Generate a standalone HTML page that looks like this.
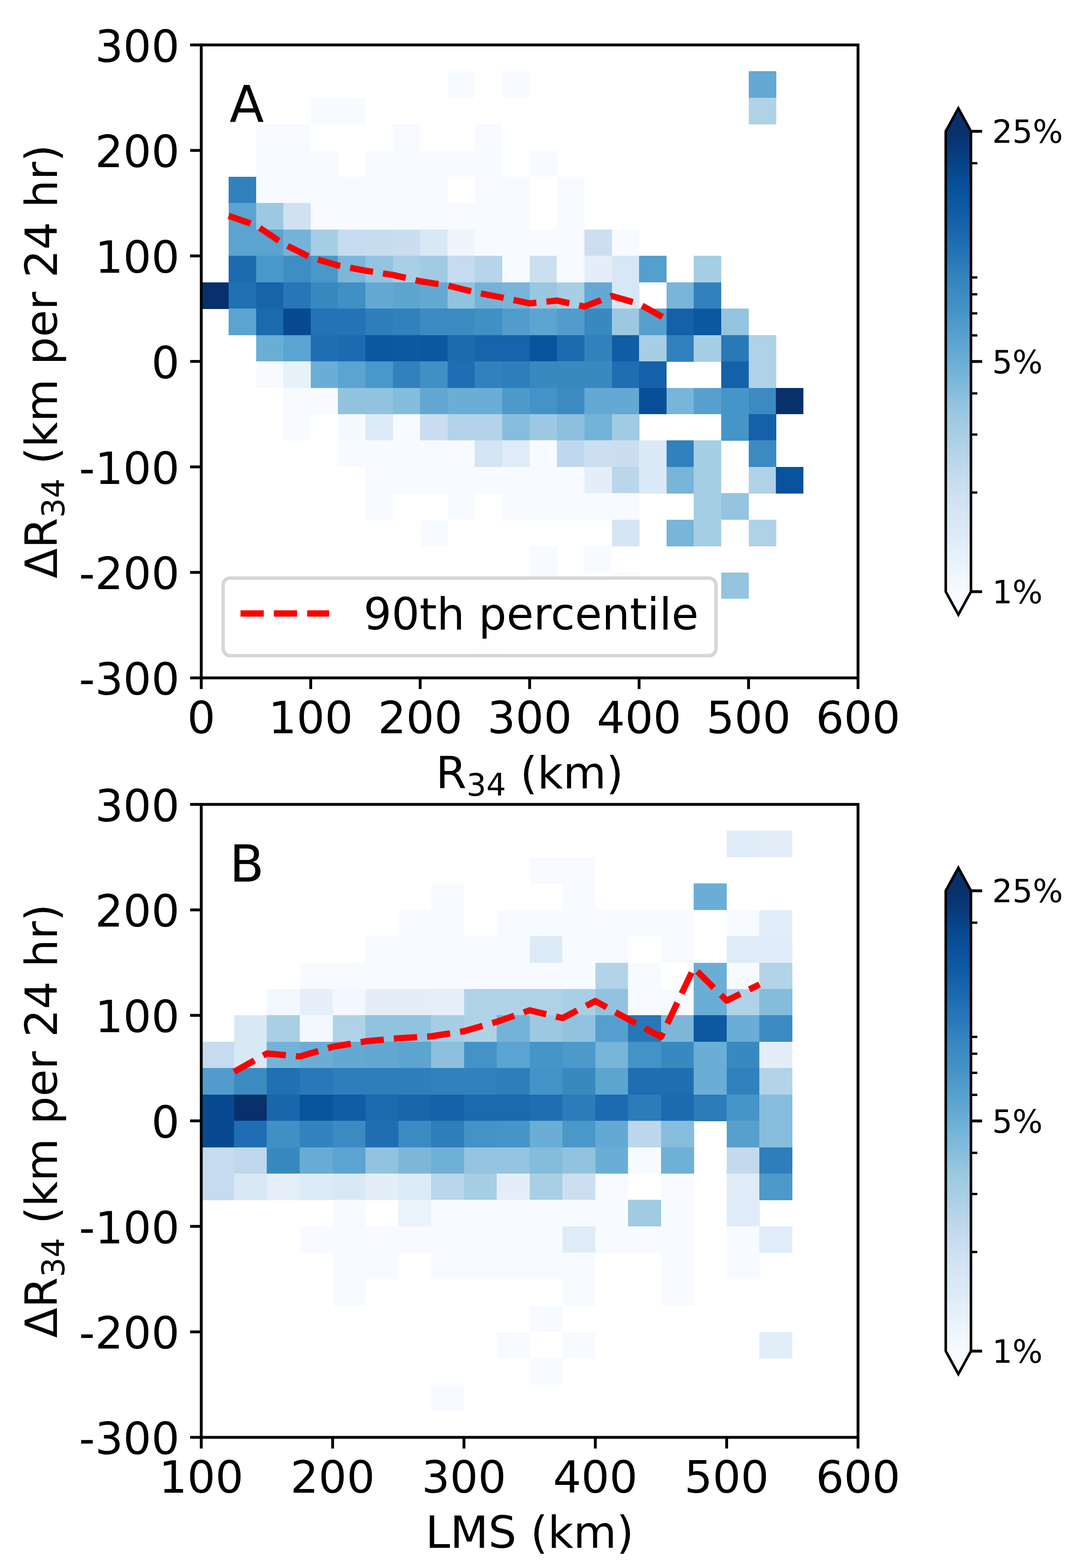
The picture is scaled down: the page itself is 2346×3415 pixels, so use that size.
<!DOCTYPE html><html><head><meta charset="utf-8"><title>Figure</title><style>html,body{margin:0;padding:0;background:#fff;}svg{display:block;}text{font-family:'DejaVu Sans', 'Liberation Sans', sans-serif;fill:#000;}</style></head><body>
<svg width="2346" height="3415" viewBox="0 0 2346 3415">
<rect width="2346" height="3415" fill="#fff"/>
<g shape-rendering="crispEdges">
<rect x="974.87" y="155.29" width="60.01" height="57.84" fill="#f7fbff"/>
<rect x="1094.09" y="155.29" width="60.01" height="57.84" fill="#f7fbff"/>
<rect x="1630.57" y="155.29" width="60.01" height="57.84" fill="#64a9d3"/>
<rect x="676.83" y="212.73" width="60.01" height="57.84" fill="#f7fbff"/>
<rect x="736.44" y="212.73" width="60.01" height="57.84" fill="#f7fbff"/>
<rect x="1630.57" y="212.73" width="60.01" height="57.84" fill="#b0d2e7"/>
<rect x="557.62" y="270.17" width="60.01" height="57.84" fill="#f7fbff"/>
<rect x="617.22" y="270.17" width="60.01" height="57.84" fill="#f7fbff"/>
<rect x="855.66" y="270.17" width="60.01" height="57.84" fill="#f7fbff"/>
<rect x="1034.48" y="270.17" width="60.01" height="57.84" fill="#f7fbff"/>
<rect x="557.62" y="327.61" width="60.01" height="57.84" fill="#f7fbff"/>
<rect x="617.22" y="327.61" width="60.01" height="57.84" fill="#f7fbff"/>
<rect x="676.83" y="327.61" width="60.01" height="57.84" fill="#f7fbff"/>
<rect x="796.05" y="327.61" width="60.01" height="57.84" fill="#f7fbff"/>
<rect x="855.66" y="327.61" width="60.01" height="57.84" fill="#f7fbff"/>
<rect x="915.27" y="327.61" width="60.01" height="57.84" fill="#f7fbff"/>
<rect x="974.87" y="327.61" width="60.01" height="57.84" fill="#f7fbff"/>
<rect x="1034.48" y="327.61" width="60.01" height="57.84" fill="#f7fbff"/>
<rect x="1153.7" y="327.61" width="60.01" height="57.84" fill="#f7fbff"/>
<rect x="498.01" y="385.05" width="60.01" height="57.84" fill="#3181bd"/>
<rect x="557.62" y="385.05" width="60.01" height="57.84" fill="#f7fbff"/>
<rect x="617.22" y="385.05" width="60.01" height="57.84" fill="#f7fbff"/>
<rect x="676.83" y="385.05" width="60.01" height="57.84" fill="#f7fbff"/>
<rect x="736.44" y="385.05" width="60.01" height="57.84" fill="#f7fbff"/>
<rect x="796.05" y="385.05" width="60.01" height="57.84" fill="#f7fbff"/>
<rect x="855.66" y="385.05" width="60.01" height="57.84" fill="#f7fbff"/>
<rect x="915.27" y="385.05" width="60.01" height="57.84" fill="#f7fbff"/>
<rect x="1034.48" y="385.05" width="60.01" height="57.84" fill="#f7fbff"/>
<rect x="1094.09" y="385.05" width="60.01" height="57.84" fill="#f7fbff"/>
<rect x="1213.31" y="385.05" width="60.01" height="57.84" fill="#f7fbff"/>
<rect x="498.01" y="442.49" width="60.01" height="57.84" fill="#5ba3d0"/>
<rect x="557.62" y="442.49" width="60.01" height="57.84" fill="#9cc9e1"/>
<rect x="617.22" y="442.49" width="60.01" height="57.84" fill="#d0e1f2"/>
<rect x="676.83" y="442.49" width="60.01" height="57.84" fill="#f7fbff"/>
<rect x="736.44" y="442.49" width="60.01" height="57.84" fill="#f7fbff"/>
<rect x="796.05" y="442.49" width="60.01" height="57.84" fill="#f7fbff"/>
<rect x="855.66" y="442.49" width="60.01" height="57.84" fill="#f7fbff"/>
<rect x="915.27" y="442.49" width="60.01" height="57.84" fill="#f7fbff"/>
<rect x="974.87" y="442.49" width="60.01" height="57.84" fill="#f7fbff"/>
<rect x="1034.48" y="442.49" width="60.01" height="57.84" fill="#f7fbff"/>
<rect x="1094.09" y="442.49" width="60.01" height="57.84" fill="#f7fbff"/>
<rect x="1213.31" y="442.49" width="60.01" height="57.84" fill="#f7fbff"/>
<rect x="498.01" y="499.93" width="60.01" height="57.84" fill="#5ba3d0"/>
<rect x="557.62" y="499.93" width="60.01" height="57.84" fill="#5ba3d0"/>
<rect x="617.22" y="499.93" width="60.01" height="57.84" fill="#74b3d8"/>
<rect x="676.83" y="499.93" width="60.01" height="57.84" fill="#a6cee4"/>
<rect x="736.44" y="499.93" width="60.01" height="57.84" fill="#c6dbef"/>
<rect x="796.05" y="499.93" width="60.01" height="57.84" fill="#c8dcf0"/>
<rect x="855.66" y="499.93" width="60.01" height="57.84" fill="#cadef0"/>
<rect x="915.27" y="499.93" width="60.01" height="57.84" fill="#d9e8f5"/>
<rect x="974.87" y="499.93" width="60.01" height="57.84" fill="#eef5fc"/>
<rect x="1034.48" y="499.93" width="60.01" height="57.84" fill="#f7fbff"/>
<rect x="1094.09" y="499.93" width="60.01" height="57.84" fill="#f7fbff"/>
<rect x="1153.7" y="499.93" width="60.01" height="57.84" fill="#f7fbff"/>
<rect x="1213.31" y="499.93" width="60.01" height="57.84" fill="#f7fbff"/>
<rect x="1272.92" y="499.93" width="60.01" height="57.84" fill="#ccdff1"/>
<rect x="1332.52" y="499.93" width="60.01" height="57.84" fill="#f7fbff"/>
<rect x="498.01" y="557.37" width="60.01" height="57.84" fill="#1c6bb0"/>
<rect x="557.62" y="557.37" width="60.01" height="57.84" fill="#4a98c9"/>
<rect x="617.22" y="557.37" width="60.01" height="57.84" fill="#3e8ec4"/>
<rect x="676.83" y="557.37" width="60.01" height="57.84" fill="#4a98c9"/>
<rect x="736.44" y="557.37" width="60.01" height="57.84" fill="#7cb7da"/>
<rect x="796.05" y="557.37" width="60.01" height="57.84" fill="#94c4df"/>
<rect x="855.66" y="557.37" width="60.01" height="57.84" fill="#a9cfe5"/>
<rect x="915.27" y="557.37" width="60.01" height="57.84" fill="#a0cbe2"/>
<rect x="974.87" y="557.37" width="60.01" height="57.84" fill="#c6dbef"/>
<rect x="1034.48" y="557.37" width="60.01" height="57.84" fill="#b7d4ea"/>
<rect x="1094.09" y="557.37" width="60.01" height="57.84" fill="#f7fbff"/>
<rect x="1153.7" y="557.37" width="60.01" height="57.84" fill="#ccdff1"/>
<rect x="1213.31" y="557.37" width="60.01" height="57.84" fill="#f7fbff"/>
<rect x="1272.92" y="557.37" width="60.01" height="57.84" fill="#e3eef9"/>
<rect x="1332.52" y="557.37" width="60.01" height="57.84" fill="#d8e7f5"/>
<rect x="1392.13" y="557.37" width="60.01" height="57.84" fill="#549fcd"/>
<rect x="1511.35" y="557.37" width="60.01" height="57.84" fill="#a6cee4"/>
<rect x="438.4" y="614.81" width="60.01" height="57.84" fill="#08306b"/>
<rect x="498.01" y="614.81" width="60.01" height="57.84" fill="#2070b4"/>
<rect x="557.62" y="614.81" width="60.01" height="57.84" fill="#1764ab"/>
<rect x="617.22" y="614.81" width="60.01" height="57.84" fill="#2676b8"/>
<rect x="676.83" y="614.81" width="60.01" height="57.84" fill="#3989c1"/>
<rect x="736.44" y="614.81" width="60.01" height="57.84" fill="#4090c5"/>
<rect x="796.05" y="614.81" width="60.01" height="57.84" fill="#64a9d3"/>
<rect x="855.66" y="614.81" width="60.01" height="57.84" fill="#5da5d1"/>
<rect x="915.27" y="614.81" width="60.01" height="57.84" fill="#64a9d3"/>
<rect x="974.87" y="614.81" width="60.01" height="57.84" fill="#91c3de"/>
<rect x="1034.48" y="614.81" width="60.01" height="57.84" fill="#74b3d8"/>
<rect x="1094.09" y="614.81" width="60.01" height="57.84" fill="#77b5d9"/>
<rect x="1153.7" y="614.81" width="60.01" height="57.84" fill="#99c7e0"/>
<rect x="1213.31" y="614.81" width="60.01" height="57.84" fill="#a6cee4"/>
<rect x="1272.92" y="614.81" width="60.01" height="57.84" fill="#64a9d3"/>
<rect x="1332.52" y="614.81" width="60.01" height="57.84" fill="#d8e7f5"/>
<rect x="1451.74" y="614.81" width="60.01" height="57.84" fill="#77b5d9"/>
<rect x="1511.35" y="614.81" width="60.01" height="57.84" fill="#3181bd"/>
<rect x="498.01" y="672.25" width="60.01" height="57.84" fill="#5ba3d0"/>
<rect x="557.62" y="672.25" width="60.01" height="57.84" fill="#1b69af"/>
<rect x="617.22" y="672.25" width="60.01" height="57.84" fill="#084a91"/>
<rect x="676.83" y="672.25" width="60.01" height="57.84" fill="#2373b6"/>
<rect x="736.44" y="672.25" width="60.01" height="57.84" fill="#2373b6"/>
<rect x="796.05" y="672.25" width="60.01" height="57.84" fill="#2e7ebc"/>
<rect x="855.66" y="672.25" width="60.01" height="57.84" fill="#3181bd"/>
<rect x="915.27" y="672.25" width="60.01" height="57.84" fill="#3b8bc2"/>
<rect x="974.87" y="672.25" width="60.01" height="57.84" fill="#3b8bc2"/>
<rect x="1034.48" y="672.25" width="60.01" height="57.84" fill="#4090c5"/>
<rect x="1094.09" y="672.25" width="60.01" height="57.84" fill="#519ccc"/>
<rect x="1153.7" y="672.25" width="60.01" height="57.84" fill="#5da5d1"/>
<rect x="1213.31" y="672.25" width="60.01" height="57.84" fill="#519ccc"/>
<rect x="1272.92" y="672.25" width="60.01" height="57.84" fill="#3989c1"/>
<rect x="1332.52" y="672.25" width="60.01" height="57.84" fill="#9cc9e1"/>
<rect x="1392.13" y="672.25" width="60.01" height="57.84" fill="#57a0ce"/>
<rect x="1451.74" y="672.25" width="60.01" height="57.84" fill="#1561a9"/>
<rect x="1511.35" y="672.25" width="60.01" height="57.84" fill="#0d57a1"/>
<rect x="1570.96" y="672.25" width="60.01" height="57.84" fill="#94c4df"/>
<rect x="557.62" y="729.69" width="60.01" height="57.84" fill="#6aaed6"/>
<rect x="617.22" y="729.69" width="60.01" height="57.84" fill="#5ba3d0"/>
<rect x="676.83" y="729.69" width="60.01" height="57.84" fill="#1f6eb3"/>
<rect x="736.44" y="729.69" width="60.01" height="57.84" fill="#1c6bb0"/>
<rect x="796.05" y="729.69" width="60.01" height="57.84" fill="#0d57a1"/>
<rect x="855.66" y="729.69" width="60.01" height="57.84" fill="#0e59a2"/>
<rect x="915.27" y="729.69" width="60.01" height="57.84" fill="#0d57a1"/>
<rect x="974.87" y="729.69" width="60.01" height="57.84" fill="#1c6bb0"/>
<rect x="1034.48" y="729.69" width="60.01" height="57.84" fill="#1764ab"/>
<rect x="1094.09" y="729.69" width="60.01" height="57.84" fill="#1764ab"/>
<rect x="1153.7" y="729.69" width="60.01" height="57.84" fill="#0a549e"/>
<rect x="1213.31" y="729.69" width="60.01" height="57.84" fill="#1c6bb0"/>
<rect x="1272.92" y="729.69" width="60.01" height="57.84" fill="#3181bd"/>
<rect x="1332.52" y="729.69" width="60.01" height="57.84" fill="#115ca5"/>
<rect x="1392.13" y="729.69" width="60.01" height="57.84" fill="#a6cee4"/>
<rect x="1451.74" y="729.69" width="60.01" height="57.84" fill="#3181bd"/>
<rect x="1511.35" y="729.69" width="60.01" height="57.84" fill="#a6cee4"/>
<rect x="1570.96" y="729.69" width="60.01" height="57.84" fill="#2979b9"/>
<rect x="1630.57" y="729.69" width="60.01" height="57.84" fill="#b0d2e7"/>
<rect x="557.62" y="787.13" width="60.01" height="57.84" fill="#f7fbff"/>
<rect x="617.22" y="787.13" width="60.01" height="57.84" fill="#e7f1fa"/>
<rect x="676.83" y="787.13" width="60.01" height="57.84" fill="#6aaed6"/>
<rect x="736.44" y="787.13" width="60.01" height="57.84" fill="#5ba3d0"/>
<rect x="796.05" y="787.13" width="60.01" height="57.84" fill="#4a98c9"/>
<rect x="855.66" y="787.13" width="60.01" height="57.84" fill="#3181bd"/>
<rect x="915.27" y="787.13" width="60.01" height="57.84" fill="#4090c5"/>
<rect x="974.87" y="787.13" width="60.01" height="57.84" fill="#1f6eb3"/>
<rect x="1034.48" y="787.13" width="60.01" height="57.84" fill="#3181bd"/>
<rect x="1094.09" y="787.13" width="60.01" height="57.84" fill="#2e7ebc"/>
<rect x="1153.7" y="787.13" width="60.01" height="57.84" fill="#3989c1"/>
<rect x="1213.31" y="787.13" width="60.01" height="57.84" fill="#3989c1"/>
<rect x="1272.92" y="787.13" width="60.01" height="57.84" fill="#3989c1"/>
<rect x="1332.52" y="787.13" width="60.01" height="57.84" fill="#1f6eb3"/>
<rect x="1392.13" y="787.13" width="60.01" height="57.84" fill="#1561a9"/>
<rect x="1570.96" y="787.13" width="60.01" height="57.84" fill="#1561a9"/>
<rect x="1630.57" y="787.13" width="60.01" height="57.84" fill="#b0d2e7"/>
<rect x="617.22" y="844.56" width="60.01" height="57.84" fill="#f7fbff"/>
<rect x="676.83" y="844.56" width="60.01" height="57.84" fill="#f7fbff"/>
<rect x="736.44" y="844.56" width="60.01" height="57.84" fill="#91c3de"/>
<rect x="796.05" y="844.56" width="60.01" height="57.84" fill="#91c3de"/>
<rect x="855.66" y="844.56" width="60.01" height="57.84" fill="#84bcdb"/>
<rect x="915.27" y="844.56" width="60.01" height="57.84" fill="#61a7d2"/>
<rect x="974.87" y="844.56" width="60.01" height="57.84" fill="#6aaed6"/>
<rect x="1034.48" y="844.56" width="60.01" height="57.84" fill="#6aaed6"/>
<rect x="1094.09" y="844.56" width="60.01" height="57.84" fill="#4d99ca"/>
<rect x="1153.7" y="844.56" width="60.01" height="57.84" fill="#4493c7"/>
<rect x="1213.31" y="844.56" width="60.01" height="57.84" fill="#3b8bc2"/>
<rect x="1272.92" y="844.56" width="60.01" height="57.84" fill="#64a9d3"/>
<rect x="1332.52" y="844.56" width="60.01" height="57.84" fill="#64a9d3"/>
<rect x="1392.13" y="844.56" width="60.01" height="57.84" fill="#084f99"/>
<rect x="1451.74" y="844.56" width="60.01" height="57.84" fill="#77b5d9"/>
<rect x="1511.35" y="844.56" width="60.01" height="57.84" fill="#57a0ce"/>
<rect x="1570.96" y="844.56" width="60.01" height="57.84" fill="#4695c8"/>
<rect x="1630.57" y="844.56" width="60.01" height="57.84" fill="#3b8bc2"/>
<rect x="1690.17" y="844.56" width="60.01" height="57.84" fill="#08306b"/>
<rect x="617.22" y="902" width="60.01" height="57.84" fill="#f7fbff"/>
<rect x="736.44" y="902" width="60.01" height="57.84" fill="#f5fafe"/>
<rect x="796.05" y="902" width="60.01" height="57.84" fill="#ddeaf7"/>
<rect x="855.66" y="902" width="60.01" height="57.84" fill="#f7fbff"/>
<rect x="915.27" y="902" width="60.01" height="57.84" fill="#cadef0"/>
<rect x="974.87" y="902" width="60.01" height="57.84" fill="#b3d3e8"/>
<rect x="1034.48" y="902" width="60.01" height="57.84" fill="#b3d3e8"/>
<rect x="1094.09" y="902" width="60.01" height="57.84" fill="#87bddc"/>
<rect x="1153.7" y="902" width="60.01" height="57.84" fill="#9cc9e1"/>
<rect x="1213.31" y="902" width="60.01" height="57.84" fill="#8cc0dd"/>
<rect x="1272.92" y="902" width="60.01" height="57.84" fill="#74b3d8"/>
<rect x="1332.52" y="902" width="60.01" height="57.84" fill="#a0cbe2"/>
<rect x="1570.96" y="902" width="60.01" height="57.84" fill="#4695c8"/>
<rect x="1630.57" y="902" width="60.01" height="57.84" fill="#1561a9"/>
<rect x="736.44" y="959.44" width="60.01" height="57.84" fill="#f7fbff"/>
<rect x="796.05" y="959.44" width="60.01" height="57.84" fill="#f7fbff"/>
<rect x="855.66" y="959.44" width="60.01" height="57.84" fill="#f7fbff"/>
<rect x="915.27" y="959.44" width="60.01" height="57.84" fill="#f7fbff"/>
<rect x="974.87" y="959.44" width="60.01" height="57.84" fill="#f7fbff"/>
<rect x="1034.48" y="959.44" width="60.01" height="57.84" fill="#d3e4f3"/>
<rect x="1094.09" y="959.44" width="60.01" height="57.84" fill="#dfecf7"/>
<rect x="1153.7" y="959.44" width="60.01" height="57.84" fill="#f7fbff"/>
<rect x="1213.31" y="959.44" width="60.01" height="57.84" fill="#bfd8ed"/>
<rect x="1272.92" y="959.44" width="60.01" height="57.84" fill="#ccdff1"/>
<rect x="1332.52" y="959.44" width="60.01" height="57.84" fill="#cadef0"/>
<rect x="1392.13" y="959.44" width="60.01" height="57.84" fill="#dce9f6"/>
<rect x="1451.74" y="959.44" width="60.01" height="57.84" fill="#3181bd"/>
<rect x="1511.35" y="959.44" width="60.01" height="57.84" fill="#a6cee4"/>
<rect x="1630.57" y="959.44" width="60.01" height="57.84" fill="#3b8bc2"/>
<rect x="796.05" y="1016.88" width="60.01" height="57.84" fill="#f7fbff"/>
<rect x="855.66" y="1016.88" width="60.01" height="57.84" fill="#f7fbff"/>
<rect x="915.27" y="1016.88" width="60.01" height="57.84" fill="#f7fbff"/>
<rect x="974.87" y="1016.88" width="60.01" height="57.84" fill="#f7fbff"/>
<rect x="1034.48" y="1016.88" width="60.01" height="57.84" fill="#f7fbff"/>
<rect x="1094.09" y="1016.88" width="60.01" height="57.84" fill="#f7fbff"/>
<rect x="1153.7" y="1016.88" width="60.01" height="57.84" fill="#f7fbff"/>
<rect x="1213.31" y="1016.88" width="60.01" height="57.84" fill="#f7fbff"/>
<rect x="1272.92" y="1016.88" width="60.01" height="57.84" fill="#e3eef9"/>
<rect x="1332.52" y="1016.88" width="60.01" height="57.84" fill="#b9d6ea"/>
<rect x="1392.13" y="1016.88" width="60.01" height="57.84" fill="#dce9f6"/>
<rect x="1451.74" y="1016.88" width="60.01" height="57.84" fill="#77b5d9"/>
<rect x="1511.35" y="1016.88" width="60.01" height="57.84" fill="#a6cee4"/>
<rect x="1630.57" y="1016.88" width="60.01" height="57.84" fill="#b0d2e7"/>
<rect x="1690.17" y="1016.88" width="60.01" height="57.84" fill="#09529d"/>
<rect x="796.05" y="1074.32" width="60.01" height="57.84" fill="#f7fbff"/>
<rect x="974.87" y="1074.32" width="60.01" height="57.84" fill="#f7fbff"/>
<rect x="1094.09" y="1074.32" width="60.01" height="57.84" fill="#f7fbff"/>
<rect x="1153.7" y="1074.32" width="60.01" height="57.84" fill="#f7fbff"/>
<rect x="1213.31" y="1074.32" width="60.01" height="57.84" fill="#f7fbff"/>
<rect x="1272.92" y="1074.32" width="60.01" height="57.84" fill="#f7fbff"/>
<rect x="1332.52" y="1074.32" width="60.01" height="57.84" fill="#f7fbff"/>
<rect x="1511.35" y="1074.32" width="60.01" height="57.84" fill="#a6cee4"/>
<rect x="1570.96" y="1074.32" width="60.01" height="57.84" fill="#94c4df"/>
<rect x="915.27" y="1131.76" width="60.01" height="57.84" fill="#f7fbff"/>
<rect x="1332.52" y="1131.76" width="60.01" height="57.84" fill="#d6e5f4"/>
<rect x="1451.74" y="1131.76" width="60.01" height="57.84" fill="#77b5d9"/>
<rect x="1511.35" y="1131.76" width="60.01" height="57.84" fill="#a6cee4"/>
<rect x="1630.57" y="1131.76" width="60.01" height="57.84" fill="#b0d2e7"/>
<rect x="1153.7" y="1189.2" width="60.01" height="57.84" fill="#f7fbff"/>
<rect x="1272.92" y="1189.2" width="60.01" height="57.84" fill="#f7fbff"/>
<rect x="1153.7" y="1246.64" width="60.01" height="57.84" fill="#f7fbff"/>
<rect x="1332.52" y="1246.64" width="60.01" height="57.84" fill="#f7fbff"/>
<rect x="1570.96" y="1246.64" width="60.01" height="57.84" fill="#94c4df"/>
<rect x="1213.31" y="1304.08" width="60.01" height="57.84" fill="#f7fbff"/>
<rect x="1034.48" y="1361.52" width="60.01" height="57.84" fill="#f7fbff"/>
</g>
<polyline points="498.01,470.06 557.62,490.74 617.22,530.94 676.83,560.81 736.44,578.04 796.05,589.53 855.66,598.72 915.27,612.51 974.88,621.7 1034.48,636.63 1094.09,648.12 1153.7,660.76 1213.31,654.55 1272.92,667.65 1332.53,644.67 1392.13,661.91 1451.74,695.22" fill="none" stroke="#ff0000" stroke-width="13.7" stroke-dasharray="50.7 21.9" stroke-linecap="butt" stroke-linejoin="round"/>
<rect x="486" y="1259" width="1073.6" height="169" rx="15.5" ry="15.5" fill="#ffffff" fill-opacity="0.8" stroke="#cccccc" stroke-opacity="0.8" stroke-width="7.6"/>
<line x1="523.9" y1="1336.2" x2="717.1" y2="1336.2" stroke="#ff0000" stroke-width="13.7" stroke-dasharray="50.7 21.9"/>
<text x="792" y="1370.5" font-size="95.8">90th percentile</text>
<rect x="438.4" y="97.85" width="1430.6" height="1378.55" fill="none" stroke="#000" stroke-width="6.2"/>
<line x1="414.1" y1="97.85" x2="438.4" y2="97.85" stroke="#000" stroke-width="6.2"/>
<text x="391.1" y="134.55" font-size="96.5" text-anchor="end">300</text>
<line x1="414.1" y1="327.61" x2="438.4" y2="327.61" stroke="#000" stroke-width="6.2"/>
<text x="391.1" y="364.31" font-size="96.5" text-anchor="end">200</text>
<line x1="414.1" y1="557.37" x2="438.4" y2="557.37" stroke="#000" stroke-width="6.2"/>
<text x="391.1" y="594.07" font-size="96.5" text-anchor="end">100</text>
<line x1="414.1" y1="787.13" x2="438.4" y2="787.13" stroke="#000" stroke-width="6.2"/>
<text x="391.1" y="823.83" font-size="96.5" text-anchor="end">0</text>
<line x1="414.1" y1="1016.88" x2="438.4" y2="1016.88" stroke="#000" stroke-width="6.2"/>
<text x="391.1" y="1053.58" font-size="96.5" text-anchor="end">-100</text>
<line x1="414.1" y1="1246.64" x2="438.4" y2="1246.64" stroke="#000" stroke-width="6.2"/>
<text x="391.1" y="1283.34" font-size="96.5" text-anchor="end">-200</text>
<line x1="414.1" y1="1476.4" x2="438.4" y2="1476.4" stroke="#000" stroke-width="6.2"/>
<text x="391.1" y="1513.1" font-size="96.5" text-anchor="end">-300</text>
<line x1="438.4" y1="1476.4" x2="438.4" y2="1500.7" stroke="#000" stroke-width="6.2"/>
<text x="438.4" y="1597.3" font-size="96.5" text-anchor="middle">0</text>
<line x1="676.83" y1="1476.4" x2="676.83" y2="1500.7" stroke="#000" stroke-width="6.2"/>
<text x="676.83" y="1597.3" font-size="96.5" text-anchor="middle">100</text>
<line x1="915.27" y1="1476.4" x2="915.27" y2="1500.7" stroke="#000" stroke-width="6.2"/>
<text x="915.27" y="1597.3" font-size="96.5" text-anchor="middle">200</text>
<line x1="1153.7" y1="1476.4" x2="1153.7" y2="1500.7" stroke="#000" stroke-width="6.2"/>
<text x="1153.7" y="1597.3" font-size="96.5" text-anchor="middle">300</text>
<line x1="1392.13" y1="1476.4" x2="1392.13" y2="1500.7" stroke="#000" stroke-width="6.2"/>
<text x="1392.13" y="1597.3" font-size="96.5" text-anchor="middle">400</text>
<line x1="1630.57" y1="1476.4" x2="1630.57" y2="1500.7" stroke="#000" stroke-width="6.2"/>
<text x="1630.57" y="1597.3" font-size="96.5" text-anchor="middle">500</text>
<line x1="1869" y1="1476.4" x2="1869" y2="1500.7" stroke="#000" stroke-width="6.2"/>
<text x="1869" y="1597.3" font-size="96.5" text-anchor="middle">600</text>
<text x="1153.7" y="1716.8" font-size="96.5" text-anchor="middle">R<tspan font-size="67.55" dy="16.4">34</tspan><tspan dy="-16.4"> (km)</tspan></text>
<text transform="translate(123.8,787.33) rotate(-90)" font-size="95.9" text-anchor="middle">&#916;R<tspan font-size="67.13" dy="16.4">34</tspan><tspan dy="-16.4"> (km per 24 hr)</tspan></text>
<text x="500" y="265.85" font-size="109.6">A</text>
<g shape-rendering="crispEdges">
<rect x="1582.88" y="1809.34" width="71.93" height="57.84" fill="#dfecf7"/>
<rect x="1654.41" y="1809.34" width="71.93" height="57.84" fill="#e3eef9"/>
<rect x="1153.7" y="1866.78" width="71.93" height="57.84" fill="#f7fbff"/>
<rect x="1225.23" y="1866.78" width="71.93" height="57.84" fill="#f7fbff"/>
<rect x="939.11" y="1924.22" width="71.93" height="57.84" fill="#f7fbff"/>
<rect x="1225.23" y="1924.22" width="71.93" height="57.84" fill="#f7fbff"/>
<rect x="1511.35" y="1924.22" width="71.93" height="57.84" fill="#6aaed6"/>
<rect x="867.58" y="1981.66" width="71.93" height="57.84" fill="#f7fbff"/>
<rect x="939.11" y="1981.66" width="71.93" height="57.84" fill="#f7fbff"/>
<rect x="1082.17" y="1981.66" width="71.93" height="57.84" fill="#f7fbff"/>
<rect x="1153.7" y="1981.66" width="71.93" height="57.84" fill="#f7fbff"/>
<rect x="1225.23" y="1981.66" width="71.93" height="57.84" fill="#f7fbff"/>
<rect x="1296.76" y="1981.66" width="71.93" height="57.84" fill="#f7fbff"/>
<rect x="1368.29" y="1981.66" width="71.93" height="57.84" fill="#f7fbff"/>
<rect x="1439.82" y="1981.66" width="71.93" height="57.84" fill="#f7fbff"/>
<rect x="1582.88" y="1981.66" width="71.93" height="57.84" fill="#f7fbff"/>
<rect x="1654.41" y="1981.66" width="71.93" height="57.84" fill="#e1edf8"/>
<rect x="796.05" y="2039.1" width="71.93" height="57.84" fill="#f7fbff"/>
<rect x="867.58" y="2039.1" width="71.93" height="57.84" fill="#f7fbff"/>
<rect x="939.11" y="2039.1" width="71.93" height="57.84" fill="#f7fbff"/>
<rect x="1010.64" y="2039.1" width="71.93" height="57.84" fill="#f7fbff"/>
<rect x="1082.17" y="2039.1" width="71.93" height="57.84" fill="#f7fbff"/>
<rect x="1153.7" y="2039.1" width="71.93" height="57.84" fill="#ddeaf7"/>
<rect x="1225.23" y="2039.1" width="71.93" height="57.84" fill="#f7fbff"/>
<rect x="1296.76" y="2039.1" width="71.93" height="57.84" fill="#f7fbff"/>
<rect x="1439.82" y="2039.1" width="71.93" height="57.84" fill="#f7fbff"/>
<rect x="1582.88" y="2039.1" width="71.93" height="57.84" fill="#dfecf7"/>
<rect x="1654.41" y="2039.1" width="71.93" height="57.84" fill="#dfecf7"/>
<rect x="652.99" y="2096.54" width="71.93" height="57.84" fill="#f7fbff"/>
<rect x="724.52" y="2096.54" width="71.93" height="57.84" fill="#f7fbff"/>
<rect x="796.05" y="2096.54" width="71.93" height="57.84" fill="#f7fbff"/>
<rect x="867.58" y="2096.54" width="71.93" height="57.84" fill="#f7fbff"/>
<rect x="939.11" y="2096.54" width="71.93" height="57.84" fill="#f7fbff"/>
<rect x="1010.64" y="2096.54" width="71.93" height="57.84" fill="#f7fbff"/>
<rect x="1082.17" y="2096.54" width="71.93" height="57.84" fill="#f7fbff"/>
<rect x="1153.7" y="2096.54" width="71.93" height="57.84" fill="#f7fbff"/>
<rect x="1225.23" y="2096.54" width="71.93" height="57.84" fill="#f7fbff"/>
<rect x="1296.76" y="2096.54" width="71.93" height="57.84" fill="#b3d3e8"/>
<rect x="1368.29" y="2096.54" width="71.93" height="57.84" fill="#f7fbff"/>
<rect x="1511.35" y="2096.54" width="71.93" height="57.84" fill="#6aaed6"/>
<rect x="1582.88" y="2096.54" width="71.93" height="57.84" fill="#f7fbff"/>
<rect x="1654.41" y="2096.54" width="71.93" height="57.84" fill="#b3d3e8"/>
<rect x="581.46" y="2153.98" width="71.93" height="57.84" fill="#f3f8fe"/>
<rect x="652.99" y="2153.98" width="71.93" height="57.84" fill="#e5eff9"/>
<rect x="724.52" y="2153.98" width="71.93" height="57.84" fill="#f3f8fe"/>
<rect x="796.05" y="2153.98" width="71.93" height="57.84" fill="#e3eef9"/>
<rect x="867.58" y="2153.98" width="71.93" height="57.84" fill="#e3eef9"/>
<rect x="939.11" y="2153.98" width="71.93" height="57.84" fill="#e5eff9"/>
<rect x="1010.64" y="2153.98" width="71.93" height="57.84" fill="#b0d2e7"/>
<rect x="1082.17" y="2153.98" width="71.93" height="57.84" fill="#b0d2e7"/>
<rect x="1153.7" y="2153.98" width="71.93" height="57.84" fill="#b0d2e7"/>
<rect x="1225.23" y="2153.98" width="71.93" height="57.84" fill="#a9cfe5"/>
<rect x="1296.76" y="2153.98" width="71.93" height="57.84" fill="#91c3de"/>
<rect x="1368.29" y="2153.98" width="71.93" height="57.84" fill="#f7fbff"/>
<rect x="1439.82" y="2153.98" width="71.93" height="57.84" fill="#f7fbff"/>
<rect x="1511.35" y="2153.98" width="71.93" height="57.84" fill="#6aaed6"/>
<rect x="1582.88" y="2153.98" width="71.93" height="57.84" fill="#b0d2e7"/>
<rect x="1654.41" y="2153.98" width="71.93" height="57.84" fill="#84bcdb"/>
<rect x="509.93" y="2211.42" width="71.93" height="57.84" fill="#d9e8f5"/>
<rect x="581.46" y="2211.42" width="71.93" height="57.84" fill="#a9cfe5"/>
<rect x="652.99" y="2211.42" width="71.93" height="57.84" fill="#f3f8fe"/>
<rect x="724.52" y="2211.42" width="71.93" height="57.84" fill="#b0d2e7"/>
<rect x="796.05" y="2211.42" width="71.93" height="57.84" fill="#91c3de"/>
<rect x="867.58" y="2211.42" width="71.93" height="57.84" fill="#91c3de"/>
<rect x="939.11" y="2211.42" width="71.93" height="57.84" fill="#a6cee4"/>
<rect x="1010.64" y="2211.42" width="71.93" height="57.84" fill="#b0d2e7"/>
<rect x="1082.17" y="2211.42" width="71.93" height="57.84" fill="#74b3d8"/>
<rect x="1153.7" y="2211.42" width="71.93" height="57.84" fill="#9cc9e1"/>
<rect x="1225.23" y="2211.42" width="71.93" height="57.84" fill="#91c3de"/>
<rect x="1296.76" y="2211.42" width="71.93" height="57.84" fill="#549fcd"/>
<rect x="1368.29" y="2211.42" width="71.93" height="57.84" fill="#2676b8"/>
<rect x="1439.82" y="2211.42" width="71.93" height="57.84" fill="#7cb7da"/>
<rect x="1511.35" y="2211.42" width="71.93" height="57.84" fill="#0e59a2"/>
<rect x="1582.88" y="2211.42" width="71.93" height="57.84" fill="#6aaed6"/>
<rect x="1654.41" y="2211.42" width="71.93" height="57.84" fill="#3b8bc2"/>
<rect x="438.4" y="2268.86" width="71.93" height="57.84" fill="#c6dbef"/>
<rect x="509.93" y="2268.86" width="71.93" height="57.84" fill="#d9e8f5"/>
<rect x="581.46" y="2268.86" width="71.93" height="57.84" fill="#74b3d8"/>
<rect x="652.99" y="2268.86" width="71.93" height="57.84" fill="#6aaed6"/>
<rect x="724.52" y="2268.86" width="71.93" height="57.84" fill="#64a9d3"/>
<rect x="796.05" y="2268.86" width="71.93" height="57.84" fill="#61a7d2"/>
<rect x="867.58" y="2268.86" width="71.93" height="57.84" fill="#5da5d1"/>
<rect x="939.11" y="2268.86" width="71.93" height="57.84" fill="#8cc0dd"/>
<rect x="1010.64" y="2268.86" width="71.93" height="57.84" fill="#4493c7"/>
<rect x="1082.17" y="2268.86" width="71.93" height="57.84" fill="#5ba3d0"/>
<rect x="1153.7" y="2268.86" width="71.93" height="57.84" fill="#4695c8"/>
<rect x="1225.23" y="2268.86" width="71.93" height="57.84" fill="#4d99ca"/>
<rect x="1296.76" y="2268.86" width="71.93" height="57.84" fill="#77b5d9"/>
<rect x="1368.29" y="2268.86" width="71.93" height="57.84" fill="#4493c7"/>
<rect x="1439.82" y="2268.86" width="71.93" height="57.84" fill="#3989c1"/>
<rect x="1511.35" y="2268.86" width="71.93" height="57.84" fill="#6aaed6"/>
<rect x="1582.88" y="2268.86" width="71.93" height="57.84" fill="#3989c1"/>
<rect x="1654.41" y="2268.86" width="71.93" height="57.84" fill="#e3eef9"/>
<rect x="438.4" y="2326.3" width="71.93" height="57.84" fill="#519ccc"/>
<rect x="509.93" y="2326.3" width="71.93" height="57.84" fill="#3b8bc2"/>
<rect x="581.46" y="2326.3" width="71.93" height="57.84" fill="#2070b4"/>
<rect x="652.99" y="2326.3" width="71.93" height="57.84" fill="#2979b9"/>
<rect x="724.52" y="2326.3" width="71.93" height="57.84" fill="#2e7ebc"/>
<rect x="796.05" y="2326.3" width="71.93" height="57.84" fill="#2e7ebc"/>
<rect x="867.58" y="2326.3" width="71.93" height="57.84" fill="#2e7ebc"/>
<rect x="939.11" y="2326.3" width="71.93" height="57.84" fill="#3181bd"/>
<rect x="1010.64" y="2326.3" width="71.93" height="57.84" fill="#3181bd"/>
<rect x="1082.17" y="2326.3" width="71.93" height="57.84" fill="#2e7ebc"/>
<rect x="1153.7" y="2326.3" width="71.93" height="57.84" fill="#4493c7"/>
<rect x="1225.23" y="2326.3" width="71.93" height="57.84" fill="#3989c1"/>
<rect x="1296.76" y="2326.3" width="71.93" height="57.84" fill="#5da5d1"/>
<rect x="1368.29" y="2326.3" width="71.93" height="57.84" fill="#1f6eb3"/>
<rect x="1439.82" y="2326.3" width="71.93" height="57.84" fill="#1f6eb3"/>
<rect x="1511.35" y="2326.3" width="71.93" height="57.84" fill="#6aaed6"/>
<rect x="1582.88" y="2326.3" width="71.93" height="57.84" fill="#3181bd"/>
<rect x="1654.41" y="2326.3" width="71.93" height="57.84" fill="#b3d3e8"/>
<rect x="438.4" y="2383.74" width="71.93" height="57.84" fill="#084a91"/>
<rect x="509.93" y="2383.74" width="71.93" height="57.84" fill="#08306b"/>
<rect x="581.46" y="2383.74" width="71.93" height="57.84" fill="#1966ad"/>
<rect x="652.99" y="2383.74" width="71.93" height="57.84" fill="#0a549e"/>
<rect x="724.52" y="2383.74" width="71.93" height="57.84" fill="#115ca5"/>
<rect x="796.05" y="2383.74" width="71.93" height="57.84" fill="#1b69af"/>
<rect x="867.58" y="2383.74" width="71.93" height="57.84" fill="#1966ad"/>
<rect x="939.11" y="2383.74" width="71.93" height="57.84" fill="#1561a9"/>
<rect x="1010.64" y="2383.74" width="71.93" height="57.84" fill="#1b69af"/>
<rect x="1082.17" y="2383.74" width="71.93" height="57.84" fill="#1b69af"/>
<rect x="1153.7" y="2383.74" width="71.93" height="57.84" fill="#1f6eb3"/>
<rect x="1225.23" y="2383.74" width="71.93" height="57.84" fill="#2c7cba"/>
<rect x="1296.76" y="2383.74" width="71.93" height="57.84" fill="#1c6bb0"/>
<rect x="1368.29" y="2383.74" width="71.93" height="57.84" fill="#2c7cba"/>
<rect x="1439.82" y="2383.74" width="71.93" height="57.84" fill="#1c6bb0"/>
<rect x="1511.35" y="2383.74" width="71.93" height="57.84" fill="#2c7cba"/>
<rect x="1582.88" y="2383.74" width="71.93" height="57.84" fill="#4695c8"/>
<rect x="1654.41" y="2383.74" width="71.93" height="57.84" fill="#87bddc"/>
<rect x="438.4" y="2441.17" width="71.93" height="57.84" fill="#084a91"/>
<rect x="509.93" y="2441.17" width="71.93" height="57.84" fill="#1f6eb3"/>
<rect x="581.46" y="2441.17" width="71.93" height="57.84" fill="#4090c5"/>
<rect x="652.99" y="2441.17" width="71.93" height="57.84" fill="#3383be"/>
<rect x="724.52" y="2441.17" width="71.93" height="57.84" fill="#3b8bc2"/>
<rect x="796.05" y="2441.17" width="71.93" height="57.84" fill="#1f6eb3"/>
<rect x="867.58" y="2441.17" width="71.93" height="57.84" fill="#3b8bc2"/>
<rect x="939.11" y="2441.17" width="71.93" height="57.84" fill="#2e7ebc"/>
<rect x="1010.64" y="2441.17" width="71.93" height="57.84" fill="#4493c7"/>
<rect x="1082.17" y="2441.17" width="71.93" height="57.84" fill="#4695c8"/>
<rect x="1153.7" y="2441.17" width="71.93" height="57.84" fill="#6aaed6"/>
<rect x="1225.23" y="2441.17" width="71.93" height="57.84" fill="#4a98c9"/>
<rect x="1296.76" y="2441.17" width="71.93" height="57.84" fill="#64a9d3"/>
<rect x="1368.29" y="2441.17" width="71.93" height="57.84" fill="#bdd7ec"/>
<rect x="1439.82" y="2441.17" width="71.93" height="57.84" fill="#87bddc"/>
<rect x="1582.88" y="2441.17" width="71.93" height="57.84" fill="#57a0ce"/>
<rect x="1654.41" y="2441.17" width="71.93" height="57.84" fill="#87bddc"/>
<rect x="438.4" y="2498.61" width="71.93" height="57.84" fill="#c6dbef"/>
<rect x="509.93" y="2498.61" width="71.93" height="57.84" fill="#bfd8ed"/>
<rect x="581.46" y="2498.61" width="71.93" height="57.84" fill="#3989c1"/>
<rect x="652.99" y="2498.61" width="71.93" height="57.84" fill="#68acd5"/>
<rect x="724.52" y="2498.61" width="71.93" height="57.84" fill="#5ba3d0"/>
<rect x="796.05" y="2498.61" width="71.93" height="57.84" fill="#91c3de"/>
<rect x="867.58" y="2498.61" width="71.93" height="57.84" fill="#7cb7da"/>
<rect x="939.11" y="2498.61" width="71.93" height="57.84" fill="#6fb0d7"/>
<rect x="1010.64" y="2498.61" width="71.93" height="57.84" fill="#94c4df"/>
<rect x="1082.17" y="2498.61" width="71.93" height="57.84" fill="#94c4df"/>
<rect x="1153.7" y="2498.61" width="71.93" height="57.84" fill="#84bcdb"/>
<rect x="1225.23" y="2498.61" width="71.93" height="57.84" fill="#91c3de"/>
<rect x="1296.76" y="2498.61" width="71.93" height="57.84" fill="#6aaed6"/>
<rect x="1368.29" y="2498.61" width="71.93" height="57.84" fill="#f7fbff"/>
<rect x="1439.82" y="2498.61" width="71.93" height="57.84" fill="#6fb0d7"/>
<rect x="1582.88" y="2498.61" width="71.93" height="57.84" fill="#c3daee"/>
<rect x="1654.41" y="2498.61" width="71.93" height="57.84" fill="#2e7ebc"/>
<rect x="438.4" y="2556.05" width="71.93" height="57.84" fill="#c6dbef"/>
<rect x="509.93" y="2556.05" width="71.93" height="57.84" fill="#d9e8f5"/>
<rect x="581.46" y="2556.05" width="71.93" height="57.84" fill="#e5eff9"/>
<rect x="652.99" y="2556.05" width="71.93" height="57.84" fill="#ddeaf7"/>
<rect x="724.52" y="2556.05" width="71.93" height="57.84" fill="#d9e8f5"/>
<rect x="796.05" y="2556.05" width="71.93" height="57.84" fill="#e3eef9"/>
<rect x="867.58" y="2556.05" width="71.93" height="57.84" fill="#ddeaf7"/>
<rect x="939.11" y="2556.05" width="71.93" height="57.84" fill="#b9d6ea"/>
<rect x="1010.64" y="2556.05" width="71.93" height="57.84" fill="#a6cee4"/>
<rect x="1082.17" y="2556.05" width="71.93" height="57.84" fill="#e3eef9"/>
<rect x="1153.7" y="2556.05" width="71.93" height="57.84" fill="#a9cfe5"/>
<rect x="1225.23" y="2556.05" width="71.93" height="57.84" fill="#ccdff1"/>
<rect x="1296.76" y="2556.05" width="71.93" height="57.84" fill="#f7fbff"/>
<rect x="1439.82" y="2556.05" width="71.93" height="57.84" fill="#f7fbff"/>
<rect x="1582.88" y="2556.05" width="71.93" height="57.84" fill="#dfecf7"/>
<rect x="1654.41" y="2556.05" width="71.93" height="57.84" fill="#4d99ca"/>
<rect x="724.52" y="2613.49" width="71.93" height="57.84" fill="#f7fbff"/>
<rect x="867.58" y="2613.49" width="71.93" height="57.84" fill="#eaf2fb"/>
<rect x="939.11" y="2613.49" width="71.93" height="57.84" fill="#f7fbff"/>
<rect x="1010.64" y="2613.49" width="71.93" height="57.84" fill="#f7fbff"/>
<rect x="1082.17" y="2613.49" width="71.93" height="57.84" fill="#f7fbff"/>
<rect x="1153.7" y="2613.49" width="71.93" height="57.84" fill="#f7fbff"/>
<rect x="1225.23" y="2613.49" width="71.93" height="57.84" fill="#f7fbff"/>
<rect x="1296.76" y="2613.49" width="71.93" height="57.84" fill="#f7fbff"/>
<rect x="1368.29" y="2613.49" width="71.93" height="57.84" fill="#a0cbe2"/>
<rect x="1439.82" y="2613.49" width="71.93" height="57.84" fill="#f7fbff"/>
<rect x="1582.88" y="2613.49" width="71.93" height="57.84" fill="#dfecf7"/>
<rect x="652.99" y="2670.93" width="71.93" height="57.84" fill="#f7fbff"/>
<rect x="724.52" y="2670.93" width="71.93" height="57.84" fill="#f7fbff"/>
<rect x="796.05" y="2670.93" width="71.93" height="57.84" fill="#f7fbff"/>
<rect x="867.58" y="2670.93" width="71.93" height="57.84" fill="#f7fbff"/>
<rect x="939.11" y="2670.93" width="71.93" height="57.84" fill="#f7fbff"/>
<rect x="1010.64" y="2670.93" width="71.93" height="57.84" fill="#f7fbff"/>
<rect x="1082.17" y="2670.93" width="71.93" height="57.84" fill="#f7fbff"/>
<rect x="1153.7" y="2670.93" width="71.93" height="57.84" fill="#f7fbff"/>
<rect x="1225.23" y="2670.93" width="71.93" height="57.84" fill="#dfecf7"/>
<rect x="1296.76" y="2670.93" width="71.93" height="57.84" fill="#f7fbff"/>
<rect x="1368.29" y="2670.93" width="71.93" height="57.84" fill="#f7fbff"/>
<rect x="1439.82" y="2670.93" width="71.93" height="57.84" fill="#f7fbff"/>
<rect x="1582.88" y="2670.93" width="71.93" height="57.84" fill="#f7fbff"/>
<rect x="1654.41" y="2670.93" width="71.93" height="57.84" fill="#e1edf8"/>
<rect x="724.52" y="2728.37" width="71.93" height="57.84" fill="#f7fbff"/>
<rect x="796.05" y="2728.37" width="71.93" height="57.84" fill="#f7fbff"/>
<rect x="939.11" y="2728.37" width="71.93" height="57.84" fill="#f7fbff"/>
<rect x="1010.64" y="2728.37" width="71.93" height="57.84" fill="#f7fbff"/>
<rect x="1082.17" y="2728.37" width="71.93" height="57.84" fill="#f7fbff"/>
<rect x="1153.7" y="2728.37" width="71.93" height="57.84" fill="#f7fbff"/>
<rect x="1225.23" y="2728.37" width="71.93" height="57.84" fill="#f7fbff"/>
<rect x="1439.82" y="2728.37" width="71.93" height="57.84" fill="#f7fbff"/>
<rect x="1582.88" y="2728.37" width="71.93" height="57.84" fill="#f7fbff"/>
<rect x="724.52" y="2785.81" width="71.93" height="57.84" fill="#f7fbff"/>
<rect x="1225.23" y="2785.81" width="71.93" height="57.84" fill="#f7fbff"/>
<rect x="1439.82" y="2785.81" width="71.93" height="57.84" fill="#f7fbff"/>
<rect x="1153.7" y="2843.25" width="71.93" height="57.84" fill="#f7fbff"/>
<rect x="1082.17" y="2900.69" width="71.93" height="57.84" fill="#f7fbff"/>
<rect x="1225.23" y="2900.69" width="71.93" height="57.84" fill="#f7fbff"/>
<rect x="1654.41" y="2900.69" width="71.93" height="57.84" fill="#e1edf8"/>
<rect x="1153.7" y="2958.13" width="71.93" height="57.84" fill="#f7fbff"/>
<rect x="939.11" y="3015.57" width="71.93" height="57.84" fill="#f7fbff"/>
</g>
<polyline points="509.93,2334.34 581.46,2294.36 652.99,2301.02 724.52,2279.88 796.05,2267.94 867.58,2261.27 939.11,2257.14 1010.64,2245.88 1082.17,2225.43 1153.7,2200.39 1225.23,2217.39 1296.76,2180.17 1368.29,2219.69 1439.82,2258.52 1511.35,2108.03 1582.88,2179.25 1654.41,2144.1" fill="none" stroke="#ff0000" stroke-width="13.7" stroke-dasharray="50.7 21.9" stroke-linecap="butt" stroke-linejoin="round"/>
<rect x="438.4" y="1751.9" width="1430.6" height="1378.55" fill="none" stroke="#000" stroke-width="6.2"/>
<line x1="414.1" y1="1751.9" x2="438.4" y2="1751.9" stroke="#000" stroke-width="6.2"/>
<text x="391.1" y="1788.6" font-size="96.5" text-anchor="end">300</text>
<line x1="414.1" y1="1981.66" x2="438.4" y2="1981.66" stroke="#000" stroke-width="6.2"/>
<text x="391.1" y="2018.36" font-size="96.5" text-anchor="end">200</text>
<line x1="414.1" y1="2211.42" x2="438.4" y2="2211.42" stroke="#000" stroke-width="6.2"/>
<text x="391.1" y="2248.12" font-size="96.5" text-anchor="end">100</text>
<line x1="414.1" y1="2441.17" x2="438.4" y2="2441.17" stroke="#000" stroke-width="6.2"/>
<text x="391.1" y="2477.87" font-size="96.5" text-anchor="end">0</text>
<line x1="414.1" y1="2670.93" x2="438.4" y2="2670.93" stroke="#000" stroke-width="6.2"/>
<text x="391.1" y="2707.63" font-size="96.5" text-anchor="end">-100</text>
<line x1="414.1" y1="2900.69" x2="438.4" y2="2900.69" stroke="#000" stroke-width="6.2"/>
<text x="391.1" y="2937.39" font-size="96.5" text-anchor="end">-200</text>
<line x1="414.1" y1="3130.45" x2="438.4" y2="3130.45" stroke="#000" stroke-width="6.2"/>
<text x="391.1" y="3167.15" font-size="96.5" text-anchor="end">-300</text>
<line x1="438.4" y1="3130.45" x2="438.4" y2="3154.75" stroke="#000" stroke-width="6.2"/>
<text x="438.4" y="3251.35" font-size="96.5" text-anchor="middle">100</text>
<line x1="724.52" y1="3130.45" x2="724.52" y2="3154.75" stroke="#000" stroke-width="6.2"/>
<text x="724.52" y="3251.35" font-size="96.5" text-anchor="middle">200</text>
<line x1="1010.64" y1="3130.45" x2="1010.64" y2="3154.75" stroke="#000" stroke-width="6.2"/>
<text x="1010.64" y="3251.35" font-size="96.5" text-anchor="middle">300</text>
<line x1="1296.76" y1="3130.45" x2="1296.76" y2="3154.75" stroke="#000" stroke-width="6.2"/>
<text x="1296.76" y="3251.35" font-size="96.5" text-anchor="middle">400</text>
<line x1="1582.88" y1="3130.45" x2="1582.88" y2="3154.75" stroke="#000" stroke-width="6.2"/>
<text x="1582.88" y="3251.35" font-size="96.5" text-anchor="middle">500</text>
<line x1="1869" y1="3130.45" x2="1869" y2="3154.75" stroke="#000" stroke-width="6.2"/>
<text x="1869" y="3251.35" font-size="96.5" text-anchor="middle">600</text>
<text x="1153.7" y="3370.85" font-size="96.5" text-anchor="middle">LMS (km)</text>
<text transform="translate(123.8,2441.37) rotate(-90)" font-size="95.9" text-anchor="middle">&#916;R<tspan font-size="67.13" dy="16.4">34</tspan><tspan dy="-16.4"> (km per 24 hr)</tspan></text>
<text x="500" y="1919.9" font-size="109.6">B</text>
<defs><linearGradient id="cbA" x1="0" y1="1" x2="0" y2="0">
<stop offset="0" stop-color="#f7fbff"/>
<stop offset="0.03" stop-color="#f1f7fd"/>
<stop offset="0.06" stop-color="#eaf3fb"/>
<stop offset="0.09" stop-color="#e4eff9"/>
<stop offset="0.12" stop-color="#deebf7"/>
<stop offset="0.16" stop-color="#d8e7f5"/>
<stop offset="0.19" stop-color="#d2e3f3"/>
<stop offset="0.22" stop-color="#ccdff1"/>
<stop offset="0.25" stop-color="#c6dbef"/>
<stop offset="0.28" stop-color="#bcd7eb"/>
<stop offset="0.31" stop-color="#b2d2e8"/>
<stop offset="0.34" stop-color="#a8cee4"/>
<stop offset="0.38" stop-color="#9dcae1"/>
<stop offset="0.41" stop-color="#91c3de"/>
<stop offset="0.44" stop-color="#84bcdb"/>
<stop offset="0.47" stop-color="#77b5d9"/>
<stop offset="0.5" stop-color="#6aaed6"/>
<stop offset="0.53" stop-color="#60a7d2"/>
<stop offset="0.56" stop-color="#56a0ce"/>
<stop offset="0.59" stop-color="#4b98ca"/>
<stop offset="0.62" stop-color="#4191c6"/>
<stop offset="0.66" stop-color="#3989c1"/>
<stop offset="0.69" stop-color="#3181bd"/>
<stop offset="0.72" stop-color="#2979b9"/>
<stop offset="0.75" stop-color="#2070b4"/>
<stop offset="0.78" stop-color="#1a68ae"/>
<stop offset="0.81" stop-color="#1460a8"/>
<stop offset="0.84" stop-color="#0e58a2"/>
<stop offset="0.88" stop-color="#08509b"/>
<stop offset="0.91" stop-color="#08488e"/>
<stop offset="0.94" stop-color="#084082"/>
<stop offset="0.97" stop-color="#083776"/>
<stop offset="1" stop-color="#08306b"/>
</linearGradient></defs>
<rect x="2060.1" y="286" width="54.9" height="1002.6" fill="url(#cbA)"/>
<polygon points="2060.1,286.5 2087.55,235.87 2115,286.5" fill="#08306b"/>
<polygon points="2060.1,1288.1 2087.55,1338.73 2115,1288.1" fill="#f7fbff"/>
<polygon points="2060.1,286 2087.55,235.87 2115,286 2115,1288.6 2087.55,1338.73 2060.1,1288.6" fill="none" stroke="#000" stroke-width="5.6" stroke-linejoin="miter" stroke-miterlimit="10"/>
<line x1="2115" y1="1072.7" x2="2128.9" y2="1072.7" stroke="#000" stroke-width="5.0"/>
<line x1="2115" y1="946.41" x2="2128.9" y2="946.41" stroke="#000" stroke-width="5.0"/>
<line x1="2115" y1="856.8" x2="2128.9" y2="856.8" stroke="#000" stroke-width="5.0"/>
<line x1="2115" y1="730.51" x2="2128.9" y2="730.51" stroke="#000" stroke-width="5.0"/>
<line x1="2115" y1="682.5" x2="2128.9" y2="682.5" stroke="#000" stroke-width="5.0"/>
<line x1="2115" y1="640.91" x2="2128.9" y2="640.91" stroke="#000" stroke-width="5.0"/>
<line x1="2115" y1="604.22" x2="2128.9" y2="604.22" stroke="#000" stroke-width="5.0"/>
<line x1="2115" y1="355.5" x2="2128.9" y2="355.5" stroke="#000" stroke-width="5.0"/>
<line x1="2115" y1="1288.6" x2="2139.3" y2="1288.6" stroke="#000" stroke-width="6.2"/>
<text x="2161.2" y="1314" font-size="69.4">1%</text>
<line x1="2115" y1="787.3" x2="2139.3" y2="787.3" stroke="#000" stroke-width="6.2"/>
<text x="2161.2" y="812.7" font-size="69.4">5%</text>
<line x1="2115" y1="286" x2="2139.3" y2="286" stroke="#000" stroke-width="6.2"/>
<text x="2161.2" y="311.4" font-size="69.4">25%</text>
<defs><linearGradient id="cbB" x1="0" y1="1" x2="0" y2="0">
<stop offset="0" stop-color="#f7fbff"/>
<stop offset="0.03" stop-color="#f1f7fd"/>
<stop offset="0.06" stop-color="#eaf3fb"/>
<stop offset="0.09" stop-color="#e4eff9"/>
<stop offset="0.12" stop-color="#deebf7"/>
<stop offset="0.16" stop-color="#d8e7f5"/>
<stop offset="0.19" stop-color="#d2e3f3"/>
<stop offset="0.22" stop-color="#ccdff1"/>
<stop offset="0.25" stop-color="#c6dbef"/>
<stop offset="0.28" stop-color="#bcd7eb"/>
<stop offset="0.31" stop-color="#b2d2e8"/>
<stop offset="0.34" stop-color="#a8cee4"/>
<stop offset="0.38" stop-color="#9dcae1"/>
<stop offset="0.41" stop-color="#91c3de"/>
<stop offset="0.44" stop-color="#84bcdb"/>
<stop offset="0.47" stop-color="#77b5d9"/>
<stop offset="0.5" stop-color="#6aaed6"/>
<stop offset="0.53" stop-color="#60a7d2"/>
<stop offset="0.56" stop-color="#56a0ce"/>
<stop offset="0.59" stop-color="#4b98ca"/>
<stop offset="0.62" stop-color="#4191c6"/>
<stop offset="0.66" stop-color="#3989c1"/>
<stop offset="0.69" stop-color="#3181bd"/>
<stop offset="0.72" stop-color="#2979b9"/>
<stop offset="0.75" stop-color="#2070b4"/>
<stop offset="0.78" stop-color="#1a68ae"/>
<stop offset="0.81" stop-color="#1460a8"/>
<stop offset="0.84" stop-color="#0e58a2"/>
<stop offset="0.88" stop-color="#08509b"/>
<stop offset="0.91" stop-color="#08488e"/>
<stop offset="0.94" stop-color="#084082"/>
<stop offset="0.97" stop-color="#083776"/>
<stop offset="1" stop-color="#08306b"/>
</linearGradient></defs>
<rect x="2060.1" y="1940.05" width="54.9" height="1002.6" fill="url(#cbB)"/>
<polygon points="2060.1,1940.55 2087.55,1889.92 2115,1940.55" fill="#08306b"/>
<polygon points="2060.1,2942.15 2087.55,2992.78 2115,2942.15" fill="#f7fbff"/>
<polygon points="2060.1,1940.05 2087.55,1889.92 2115,1940.05 2115,2942.65 2087.55,2992.78 2060.1,2942.65" fill="none" stroke="#000" stroke-width="5.6" stroke-linejoin="miter" stroke-miterlimit="10"/>
<line x1="2115" y1="2726.75" x2="2128.9" y2="2726.75" stroke="#000" stroke-width="5.0"/>
<line x1="2115" y1="2600.46" x2="2128.9" y2="2600.46" stroke="#000" stroke-width="5.0"/>
<line x1="2115" y1="2510.85" x2="2128.9" y2="2510.85" stroke="#000" stroke-width="5.0"/>
<line x1="2115" y1="2384.56" x2="2128.9" y2="2384.56" stroke="#000" stroke-width="5.0"/>
<line x1="2115" y1="2336.55" x2="2128.9" y2="2336.55" stroke="#000" stroke-width="5.0"/>
<line x1="2115" y1="2294.96" x2="2128.9" y2="2294.96" stroke="#000" stroke-width="5.0"/>
<line x1="2115" y1="2258.27" x2="2128.9" y2="2258.27" stroke="#000" stroke-width="5.0"/>
<line x1="2115" y1="2009.55" x2="2128.9" y2="2009.55" stroke="#000" stroke-width="5.0"/>
<line x1="2115" y1="2942.65" x2="2139.3" y2="2942.65" stroke="#000" stroke-width="6.2"/>
<text x="2161.2" y="2968.05" font-size="69.4">1%</text>
<line x1="2115" y1="2441.35" x2="2139.3" y2="2441.35" stroke="#000" stroke-width="6.2"/>
<text x="2161.2" y="2466.75" font-size="69.4">5%</text>
<line x1="2115" y1="1940.05" x2="2139.3" y2="1940.05" stroke="#000" stroke-width="6.2"/>
<text x="2161.2" y="1965.45" font-size="69.4">25%</text>
</svg></body></html>
